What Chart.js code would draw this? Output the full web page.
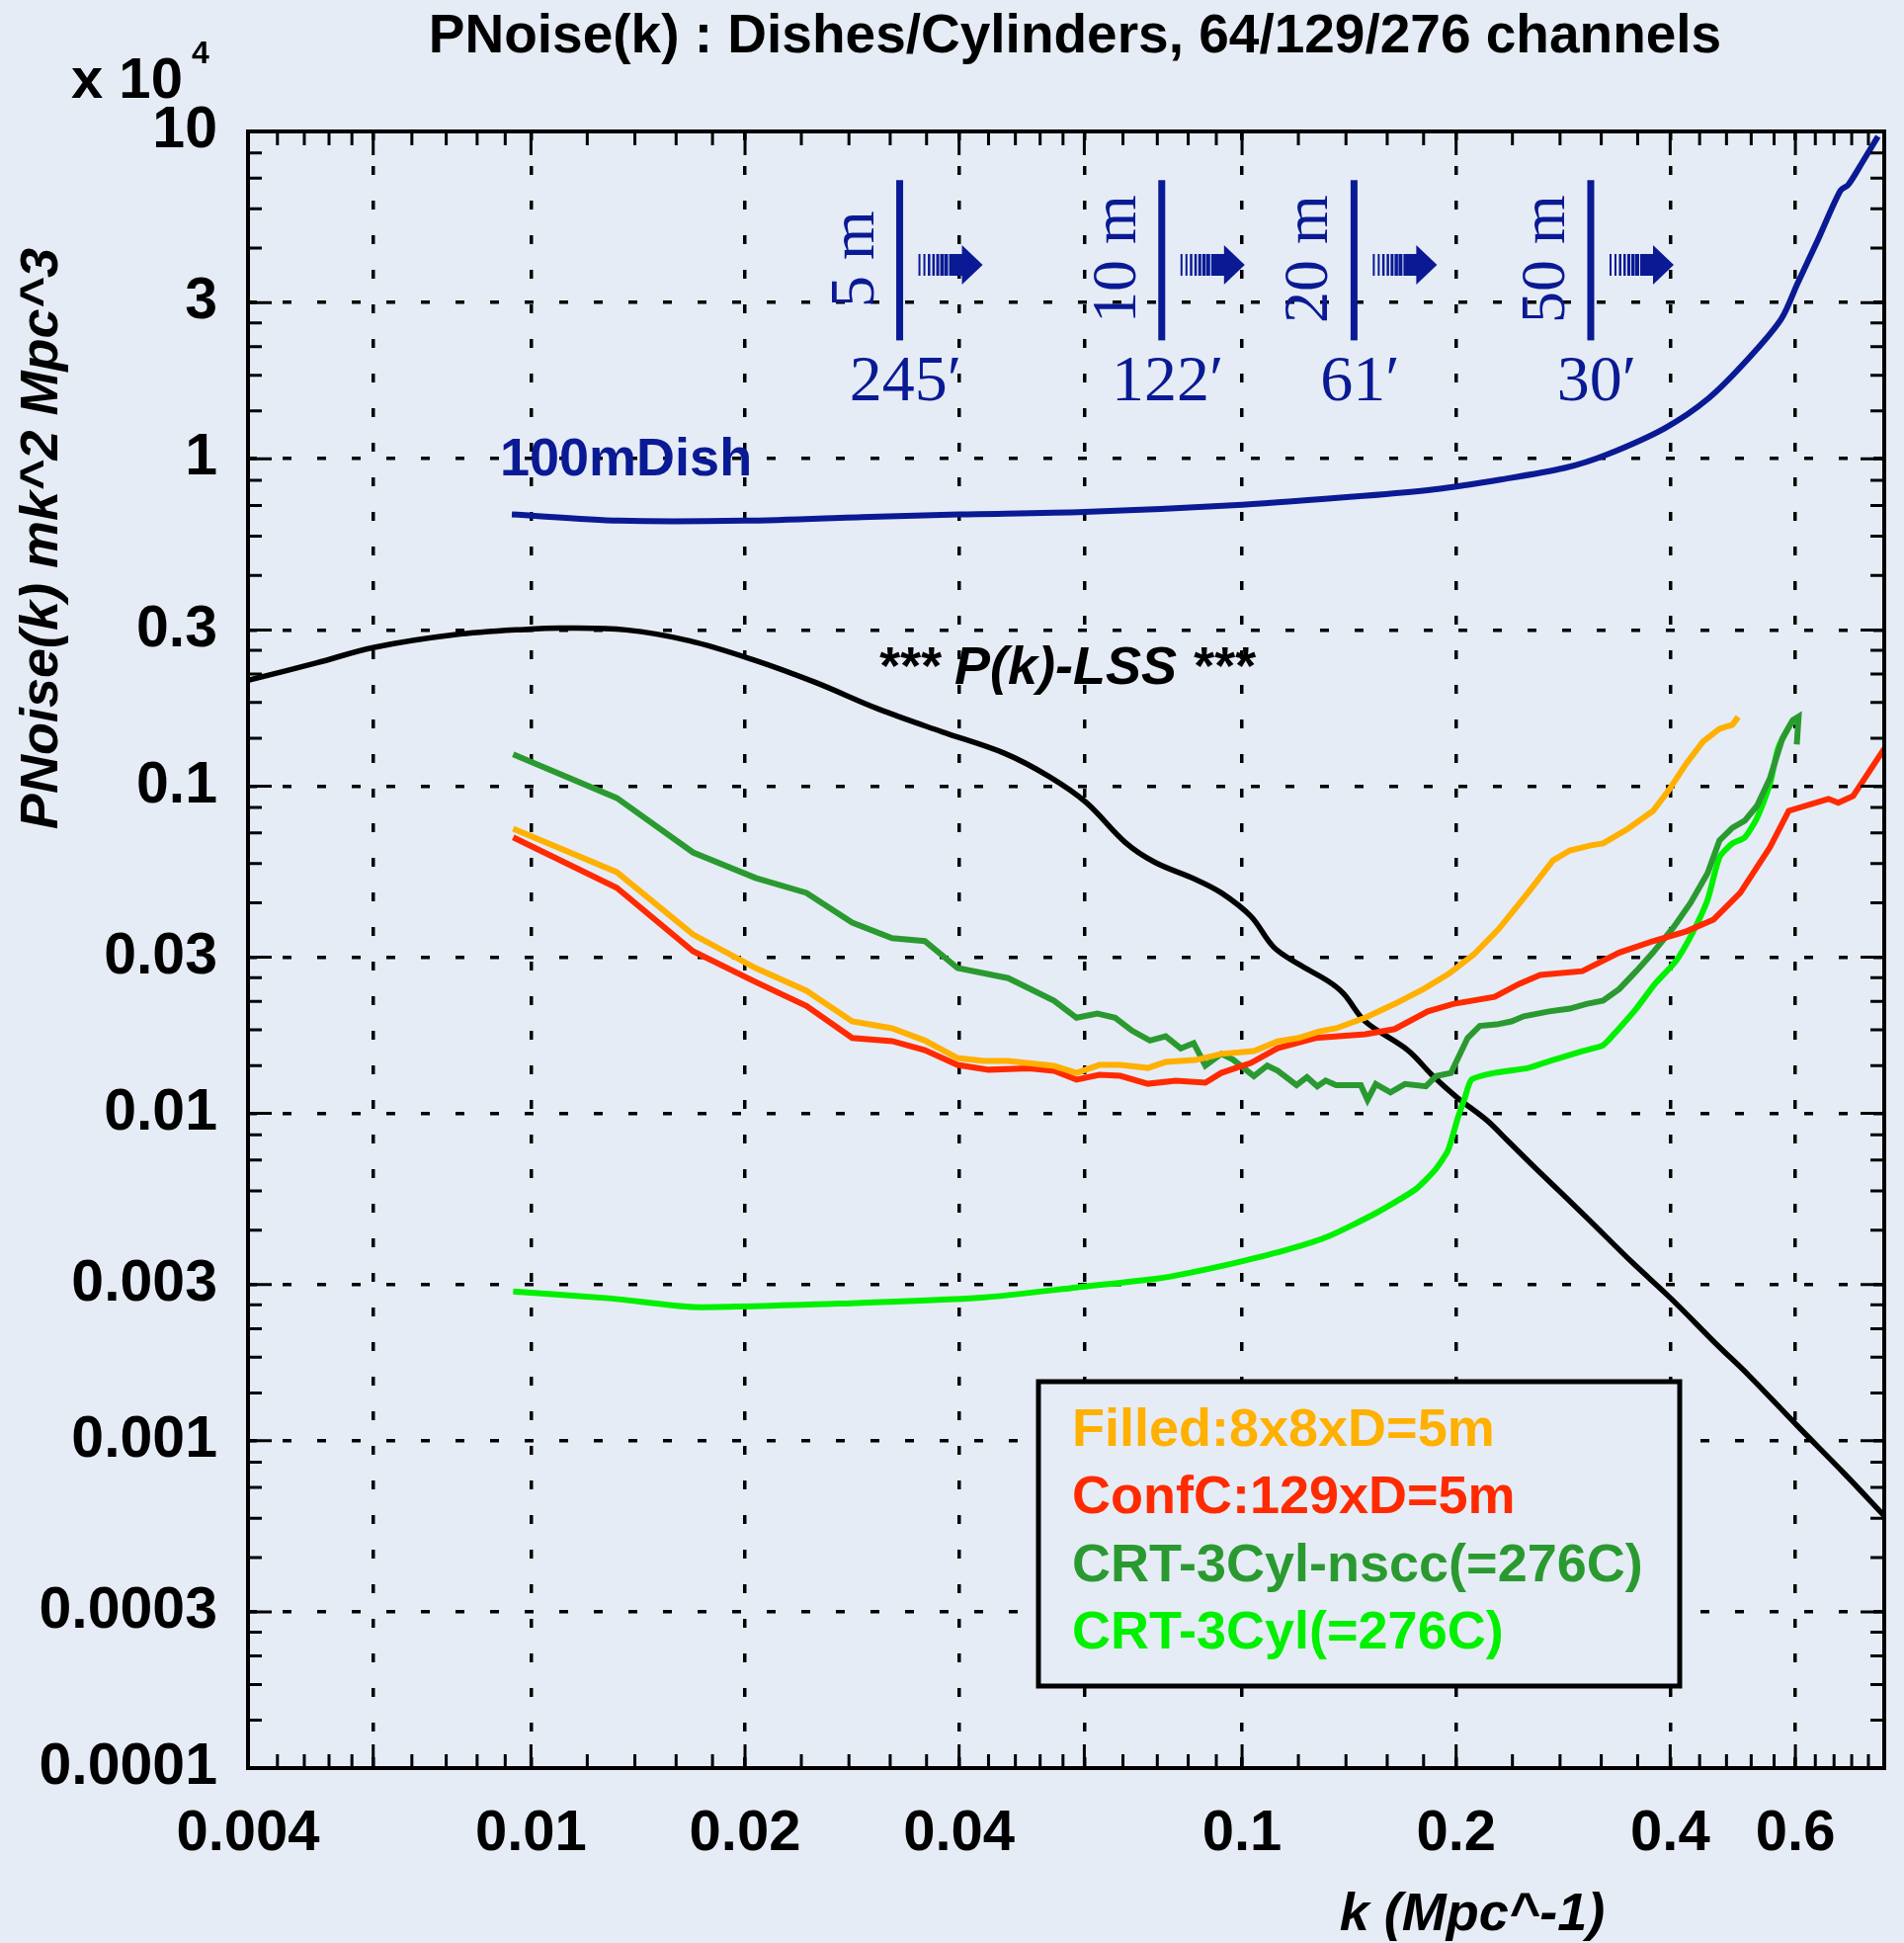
<!DOCTYPE html>
<html>
<head>
<meta charset="utf-8">
<script src="https://cdn.jsdelivr.net/npm/chart.js@4.4.1/dist/chart.umd.min.js"></script>
<style>
  html, body { margin: 0; padding: 0; background: #e5ecf5; }
  canvas { display: block; }
</style>
</head>
<body>
<canvas id="pnoise" width="1927" height="1966"></canvas>
<script>
// values, k in Mpc^-1, P in units of 10^4 mK^2 Mpc^3
const kDish = [0.0094, 0.0133, 0.02, 0.03, 0.04, 0.06, 0.1, 0.148, 0.186, 0.231, 0.285, 0.325, 0.393, 0.453, 0.515, 0.573, 0.604, 0.645, 0.694, 0.712, 0.747, 0.784];
const pDish = [0.676, 0.647, 0.647, 0.665, 0.676, 0.688, 0.724, 0.77, 0.806, 0.864, 0.939, 1.028, 1.24, 1.53, 2.02, 2.67, 3.43, 4.65, 6.59, 6.87, 8.12, 9.66];

const kLss = [0.004, 0.005, 0.006, 0.0078, 0.01, 0.0111, 0.0136, 0.0167, 0.0205, 0.0251, 0.0308, 0.0378, 0.0463, 0.0535, 0.0604, 0.0685, 0.0754, 0.0858, 0.0935, 0.1029, 0.1108, 0.12, 0.132, 0.139, 0.149, 0.171, 0.185, 0.2005, 0.221, 0.236, 0.259, 0.304, 0.354, 0.401, 0.466, 0.515, 0.604, 0.703, 0.8];
const pLss = [0.2105, 0.238, 0.265, 0.29, 0.302, 0.304, 0.3, 0.278, 0.2436, 0.2075, 0.172, 0.1466, 0.126, 0.107, 0.089, 0.0673, 0.0585, 0.052, 0.0472, 0.04, 0.0322, 0.0286, 0.0254, 0.0232, 0.0191, 0.0156, 0.0131, 0.0112, 0.00952, 0.00828, 0.00678, 0.00485, 0.0035, 0.00272, 0.00196, 0.00159, 0.00111, 0.000794, 0.00059];

const kFilled = [0.00944, 0.0132, 0.0169, 0.0207, 0.0244, 0.0283, 0.0322, 0.0358, 0.0398, 0.0433, 0.0469, 0.0544, 0.0585, 0.063, 0.0674, 0.0737, 0.0781, 0.086, 0.0935, 0.1039, 0.1122, 0.12, 0.1284, 0.1356, 0.149, 0.1639, 0.1801, 0.1953, 0.2118, 0.2294, 0.2524, 0.2737, 0.2891, 0.3093, 0.3219, 0.349, 0.3784, 0.3975, 0.4216, 0.4448, 0.4692, 0.4892, 0.4986];
const pFilled = [0.0741, 0.0546, 0.0352, 0.0278, 0.0237, 0.0191, 0.0182, 0.0167, 0.01476, 0.01446, 0.01446, 0.01397, 0.0133, 0.01406, 0.01406, 0.01377, 0.01436, 0.01456, 0.0152, 0.0155, 0.0166, 0.017, 0.0178, 0.0182, 0.0196, 0.0216, 0.024, 0.0267, 0.0306, 0.0365, 0.0472, 0.0593, 0.0636, 0.0659, 0.0668, 0.0741, 0.084, 0.0966, 0.1173, 0.1368, 0.1497, 0.1539, 0.1627];

const kConfC = [0.00944, 0.0132, 0.0169, 0.0207, 0.0244, 0.0283, 0.0322, 0.0358, 0.0398, 0.044, 0.0502, 0.0544, 0.0585, 0.063, 0.0674, 0.0737, 0.0807, 0.0888, 0.0935, 0.1029, 0.1122, 0.1268, 0.149, 0.1639, 0.1825, 0.198, 0.2265, 0.2455, 0.2626, 0.3009, 0.3393, 0.3784, 0.4216, 0.4603, 0.5019, 0.5525, 0.5872, 0.6677, 0.6894, 0.7234, 0.8];
const pConfC = [0.0697, 0.0489, 0.0313, 0.0252, 0.0213, 0.017, 0.01663, 0.0156, 0.01406, 0.0136, 0.01373, 0.01349, 0.01268, 0.01312, 0.01303, 0.01232, 0.01259, 0.01241, 0.0133, 0.01426, 0.01583, 0.017, 0.01745, 0.0181, 0.0205, 0.0216, 0.0227, 0.0249, 0.0265, 0.0272, 0.031, 0.0336, 0.036, 0.0391, 0.0472, 0.065, 0.084, 0.0914, 0.0889, 0.0933, 0.13];

const kNscc = [0.00944, 0.0132, 0.0169, 0.0207, 0.0244, 0.0283, 0.0322, 0.0358, 0.0398, 0.0469, 0.0544, 0.0585, 0.0626, 0.0663, 0.07, 0.0742, 0.0781, 0.082, 0.0855, 0.0888, 0.0935, 0.0971, 0.1039, 0.1085, 0.1122, 0.1193, 0.1234, 0.1276, 0.1311, 0.1356, 0.1469, 0.1501, 0.1542, 0.1617, 0.1695, 0.1813, 0.1875, 0.1967, 0.2076, 0.2159, 0.228, 0.2392, 0.249, 0.2703, 0.2891, 0.3049, 0.3219, 0.3393, 0.3584, 0.3784, 0.4049, 0.4274, 0.4515, 0.4692, 0.4892, 0.5093, 0.53, 0.5525, 0.5752, 0.595, 0.6063, 0.6027];
const pNscc = [0.125, 0.092, 0.0627, 0.0524, 0.0472, 0.0383, 0.0343, 0.0336, 0.0278, 0.0259, 0.0221, 0.0196, 0.0202, 0.0196, 0.0179, 0.0167, 0.0172, 0.0158, 0.0164, 0.014, 0.0152, 0.0146, 0.013, 0.014, 0.0135, 0.0122, 0.0129, 0.0121, 0.0126, 0.0122, 0.0122, 0.011, 0.0123, 0.0116, 0.0123, 0.0121, 0.013, 0.0133, 0.017, 0.0185, 0.0187, 0.0191, 0.0198, 0.0205, 0.0209, 0.0216, 0.0221, 0.024, 0.0272, 0.031, 0.0372, 0.044, 0.0542, 0.0682, 0.0746, 0.0784, 0.0871, 0.1057, 0.1396, 0.159, 0.163, 0.134];

const kCyl = [0.00944, 0.013, 0.0169, 0.0282, 0.0434, 0.0585, 0.0759, 0.0844, 0.0981, 0.1165, 0.1325, 0.154, 0.1751, 0.1869, 0.1949, 0.2012, 0.2058, 0.2102, 0.2265, 0.2526, 0.2737, 0.3009, 0.3219, 0.336, 0.3584, 0.3809, 0.4074, 0.4302, 0.4515, 0.4692, 0.4892, 0.5093, 0.53, 0.5525, 0.567, 0.591, 0.6027];
const pCyl = [0.00286, 0.00272, 0.00256, 0.00263, 0.00274, 0.00294, 0.00313, 0.00326, 0.0035, 0.00385, 0.00422, 0.00495, 0.00585, 0.00673, 0.00773, 0.00972, 0.01118, 0.01268, 0.0133, 0.01377, 0.01456, 0.0155, 0.01616, 0.0178, 0.0209, 0.0249, 0.0292, 0.0357, 0.0449, 0.0606, 0.0668, 0.0697, 0.08, 0.1014, 0.13, 0.155, 0.159];

// axes
const xMajor = [0.004, 0.006, 0.01, 0.02, 0.04, 0.06, 0.1, 0.2, 0.4, 0.6, 0.8];
const xGrid = [0.006, 0.01, 0.02, 0.04, 0.06, 0.1, 0.2, 0.4, 0.6];
const xLabelVals = [0.004, 0.01, 0.02, 0.04, 0.1, 0.2, 0.4, 0.6];
const xLabelText = ['0.004', '0.01', '0.02', '0.04', '0.1', '0.2', '0.4', '0.6'];
const yMajor = [0.0001, 0.0003, 0.001, 0.003, 0.01, 0.03, 0.1, 0.3, 1, 3, 10];
const yLabelText = ['0.0001', '0.0003', '0.001', '0.003', '0.01', '0.03', '0.1', '0.3', '1', '3', '10'];

// baseline markers along the top
const markerK = [0.033, 0.0771, 0.1437, 0.3093];
const markerSize = ['5 m', '10 m', '20 m', '50 m'];
const markerAngle = ['245′', '122′', '61′', '30′'];

const sans = "'Liberation Sans', Arial, Helvetica, sans-serif";
const serif = "'Liberation Serif', 'Times New Roman', serif";
const navy = '#0a1a94';
const paper = '#e5ecf5';

const legendItems = [
    { text: 'Filled:8x8xD=5m', color: '#ffb000' },
    { text: 'ConfC:129xD=5m', color: '#ff2a00' },
    { text: 'CRT-3Cyl-nscc(=276C)', color: '#2a9a30' },
    { text: 'CRT-3Cyl(=276C)', color: '#00f000' }
];

// 5 equal steps between each pair of major ticks
function withMinors(majors) {
    const out = [];
    for (let i = 0; i < majors.length - 1; i++) {
        for (let j = 0; j < 5; j++) {
            out.push(majors[i] + (majors[i + 1] - majors[i]) * j / 5);
        }
    }
    out.push(majors[majors.length - 1]);
    return out;
}
const xTicks = withMinors(xMajor);
const yTicks = withMinors(yMajor);

const same = (a, b) => Math.abs(a / b - 1) < 1e-6;
const inList = (v, list) => list.some(l => same(v, l));

function series(ks, ps, color, width, tension) {
    return {
        data: ks.map((k, i) => ({ x: k, y: ps[i] })),
        borderColor: color,
        borderWidth: width,
        pointRadius: 0,
        tension: tension,
        fill: false
    };
}

function arrow(ctx, x0, yc) {
    const stripes = [[19, 2], [24, 2], [28.5, 2.5], [33, 2.5], [37, 3], [41, 3.5], [45, 4]];
    ctx.fillStyle = navy;
    stripes.forEach(s => ctx.fillRect(x0 + s[0], yc - 11, s[1], 22));
    ctx.fillRect(x0 + 50, yc - 11, 14, 22);
    ctx.beginPath();
    ctx.moveTo(x0 + 63, yc - 20);
    ctx.lineTo(x0 + 84, yc);
    ctx.lineTo(x0 + 63, yc + 20);
    ctx.closePath();
    ctx.fill();
}

const decor = {
    id: 'decor',
    beforeDraw(chart) {
        const ctx = chart.ctx;
        ctx.save();
        ctx.fillStyle = paper;
        ctx.fillRect(0, 0, chart.width, chart.height);
        ctx.restore();
    },
    afterDraw(chart) {
        const ctx = chart.ctx;
        const a = chart.chartArea;
        const xs = chart.scales.x;
        const ys = chart.scales.y;
        ctx.save();

        // inward tick marks on all four sides
        ctx.strokeStyle = '#000';
        ctx.lineWidth = 3;
        ctx.beginPath();
        xTicks.forEach(v => {
            const px = xs.getPixelForValue(v);
            const len = inList(v, xMajor) ? 24 : 14;
            ctx.moveTo(px, a.bottom); ctx.lineTo(px, a.bottom - len);
            ctx.moveTo(px, a.top); ctx.lineTo(px, a.top + len);
        });
        yTicks.forEach(v => {
            const py = ys.getPixelForValue(v);
            const len = inList(v, yMajor) ? 24 : 14;
            ctx.moveTo(a.left, py); ctx.lineTo(a.left + len, py);
            ctx.moveTo(a.right, py); ctx.lineTo(a.right - len, py);
        });
        ctx.stroke();

        // frame
        ctx.lineWidth = 4;
        ctx.strokeRect(a.left, a.top, a.right - a.left, a.bottom - a.top);

        // titles
        ctx.fillStyle = '#000';
        ctx.textBaseline = 'alphabetic';
        ctx.textAlign = 'center';
        ctx.font = 'bold 55px ' + sans;
        ctx.fillText('PNoise(k) : Dishes/Cylinders, 64/129/276 channels', 1088, 53);

        ctx.textAlign = 'left';
        ctx.font = 'bold 58px ' + sans;
        ctx.fillText('x 10', 72, 99);
        ctx.font = 'bold 32px ' + sans;
        ctx.fillText('4', 194, 64);

        ctx.font = 'italic bold 54px ' + sans;
        ctx.textAlign = 'center';
        ctx.fillText('k (Mpc^-1)', 1490, 1953);

        ctx.save();
        ctx.translate(58, 545);
        ctx.rotate(-Math.PI / 2);
        ctx.fillText('PNoise(k) mk^2 Mpc^3', 0, 0);
        ctx.restore();

        ctx.textAlign = 'left';
        ctx.fillText('*** P(k)-LSS ***', 888, 692);

        ctx.font = 'bold 54px ' + sans;
        ctx.fillStyle = navy;
        ctx.fillText('100mDish', 506, 481);

        // baseline markers
        const top = ys.getPixelForValue(7.1);
        const bot = ys.getPixelForValue(2.3);
        markerK.forEach((k, i) => {
            const px = xs.getPixelForValue(k);
            ctx.fillStyle = navy;
            ctx.fillRect(px - 3.5, top, 7, bot - top);
            arrow(ctx, px, 268);
            ctx.font = '64px ' + serif;
            ctx.textAlign = 'center';
            ctx.save();
            ctx.translate(px - 27, 262);
            ctx.rotate(-Math.PI / 2);
            ctx.fillText(markerSize[i], 0, 0);
            ctx.restore();
            ctx.font = '66px ' + serif;
            ctx.fillText(markerAngle[i], px + 6, 405);
        });

        // legend box
        ctx.strokeStyle = '#000';
        ctx.lineWidth = 5;
        ctx.fillStyle = paper;
        ctx.fillRect(1051, 1398, 649, 308);
        ctx.strokeRect(1051, 1398, 649, 308);
        ctx.font = 'bold 54px ' + sans;
        ctx.textAlign = 'left';
        legendItems.forEach((it, i) => {
            ctx.fillStyle = it.color;
            ctx.fillText(it.text, 1085, 1463 + i * 68.3);
        });
        ctx.restore();
    }
};

const gridColor = list => c => (c.tick && inList(c.tick.value, list)) ? '#000' : 'rgba(0,0,0,0)';

const config = {
    type: 'line',
    data: {
        datasets: [
            series(kDish, pDish, navy, 6, 0.3),
            series(kFilled, pFilled, legendItems[0].color, 6, 0),
            series(kConfC, pConfC, legendItems[1].color, 6, 0),
            series(kNscc, pNscc, legendItems[2].color, 6, 0),
            series(kCyl, pCyl, legendItems[3].color, 6, 0.2),
            series(kLss, pLss, '#000', 5.5, 0.35)
        ]
    },
    options: {
        responsive: false,
        animation: false,
        devicePixelRatio: 1,
        layout: { padding: { top: 133, right: 20, bottom: 0, left: 0 } },
        plugins: {
            legend: { display: false },
            tooltip: { enabled: false },
            title: { display: false }
        },
        scales: {
            x: {
                type: 'logarithmic',
                min: 0.004,
                max: 0.8,
                afterBuildTicks: s => { s.ticks = xTicks.map(v => ({ value: v })); },
                afterFit: s => { s.height = 177; s.paddingRight = 0; },
                ticks: {
                    autoSkip: false,
                    maxRotation: 0,
                    minRotation: 0,
                    padding: 32,
                    color: '#000',
                    font: { family: sans, size: 58, weight: 'bold' },
                    callback: v => {
                        const i = xLabelVals.findIndex(l => same(v, l));
                        return i < 0 ? '' : xLabelText[i];
                    }
                },
                grid: { drawTicks: false, lineWidth: 3.5, color: gridColor(xGrid) },
                border: { display: false, dash: [9, 26] }
            },
            y: {
                type: 'logarithmic',
                min: 0.0001,
                max: 10,
                afterBuildTicks: s => { s.ticks = yTicks.map(v => ({ value: v })); },
                afterFit: s => { s.width = 251; },
                ticks: {
                    autoSkip: false,
                    padding: 31,
                    color: '#000',
                    font: { family: sans, size: 59, weight: 'bold' },
                    callback: v => {
                        const i = yMajor.findIndex(l => same(v, l));
                        return i < 0 ? '' : yLabelText[i];
                    }
                },
                grid: { drawTicks: false, lineWidth: 3.5, color: gridColor(yMajor.slice(1, -1)) },
                border: { display: false, dash: [9, 26] }
            }
        }
    },
    plugins: [decor]
};

const chart = new Chart(document.getElementById('pnoise'), config);
</script>
</body>
</html>
